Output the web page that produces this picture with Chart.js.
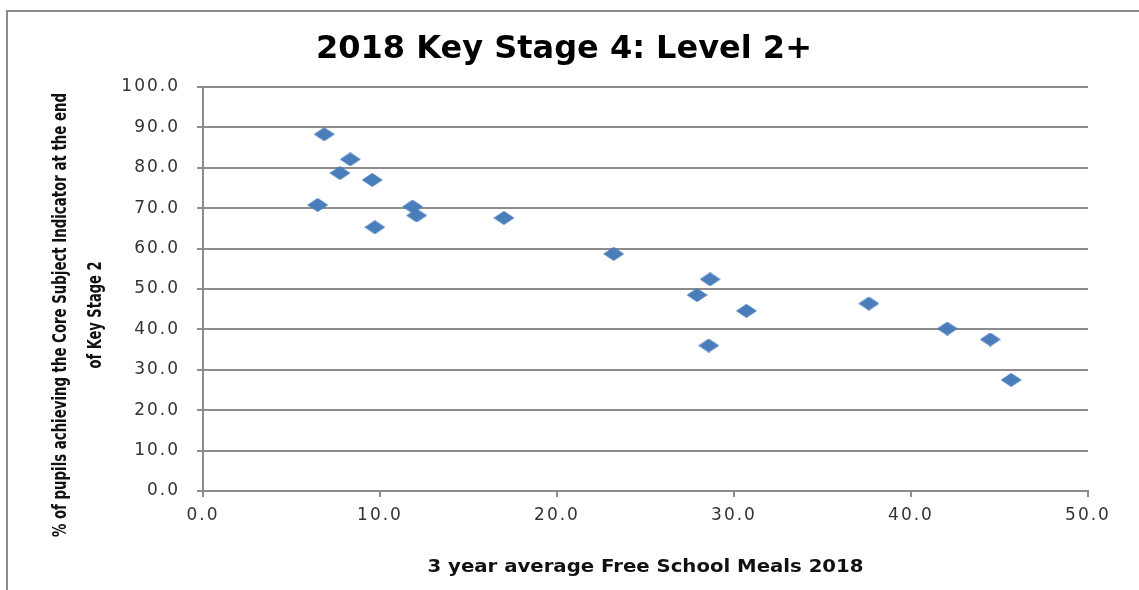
<!DOCTYPE html>
<html>
<head>
<meta charset="utf-8">
<script src="https://cdn.jsdelivr.net/npm/chart.js@4.4.1/dist/chart.umd.min.js"></script>
<style>
  html, body { margin: 0; padding: 0; background: #fff; overflow: hidden; }
  #wrap { position: relative; width: 1139px; height: 590px; overflow: hidden; }
  #frame { position: absolute; left: 6px; top: 10px; width: 1400px; height: 800px;
           border-left: 2px solid #8c8c8c; border-top: 2px solid #8c8c8c; }
  canvas { position: absolute; left: 0; top: 0; }
</style>
</head>
<body>
<div id="wrap">
  <div id="frame"></div>
  <canvas id="chart" width="1139" height="590"></canvas>
</div>
<script>
// data
const fsmPct = [6.85, 8.32, 7.74, 9.56, 6.48, 11.84, 12.07, 9.71, 17.0, 23.2,
                28.65, 27.91, 30.7, 28.57, 37.62, 42.05, 44.48, 45.66];
const csiPct = [88.3, 82.1, 78.7, 77.0, 70.8, 70.4, 68.2, 65.3, 67.6, 58.7,
                52.4, 48.5, 44.6, 36.0, 46.4, 40.2, 37.5, 27.5];
const xRange = [0, 50];
const yRange = [0, 100];
const chartTitle = "2018 Key Stage 4: Level 2+";
const xTitle = "3 year average Free School Meals 2018";
const yTitle = ["% of pupils achieving the Core Subject Indicator at the end", "of Key Stage 2"];

const points = fsmPct.map((x, i) => ({ x: x, y: csiPct[i] }));

// wide diamond marker like the Excel one
const marker = document.createElement("canvas");
marker.width = 21;
marker.height = 14;
(() => {
  const m = marker.getContext("2d");
  m.fillStyle = "#4a7ebb";
  m.beginPath();
  m.moveTo(10.5, 0);
  m.lineTo(21, 7);
  m.lineTo(10.5, 14);
  m.lineTo(0, 7);
  m.closePath();
  m.fill();
})();

const gray = "#8c8c8c";

// draw text squeezed/stretched along its own line to a given length
function fitText(ctx, text, width) {
  const w = ctx.measureText(text).width;
  ctx.save();
  ctx.scale(width / w, 1);
  ctx.fillText(text, 0, 0);
  ctx.restore();
}

const textPlugin = {
  id: "texts",
  beforeDraw(chart) {
    // tick labels in the picture are wide
    chart.ctx.letterSpacing = "2px";
  },
  afterDraw(chart) {
    const ctx = chart.ctx;
    const area = chart.chartArea;
    ctx.save();
    ctx.letterSpacing = "0px";
    ctx.fillStyle = "#000";
    ctx.textAlign = "center";
    ctx.textBaseline = "alphabetic";

    ctx.font = 'bold 32px "DejaVu Sans"';
    ctx.fillText(chartTitle, 564, 58);

    ctx.font = 'bold 18px "DejaVu Sans"';
    ctx.fillStyle = "#111";
    ctx.save();
    ctx.translate((area.left + area.right) / 2, 572);
    fitText(ctx, xTitle, 436);
    ctx.restore();

    ctx.font = 'bold 19px "Liberation Sans Narrow", "DejaVu Sans Condensed", sans-serif';
    ctx.textBaseline = "middle";
    const lens = [444, 107];
    [61, 96].forEach((cx, i) => {
      ctx.save();
      ctx.translate(cx, 315);
      ctx.rotate(-Math.PI / 2);
      fitText(ctx, yTitle[i], lens[i]);
      ctx.restore();
    });
    ctx.restore();
  }
};

new Chart(document.getElementById("chart"), {
  type: "scatter",
  data: {
    datasets: [{
      data: points,
      pointStyle: marker,
      pointRadius: 8,
      pointHoverRadius: 8,
      borderWidth: 0
    }]
  },
  options: {
    responsive: false,
    animation: false,
    devicePixelRatio: 1,
    layout: { padding: { top: 87, left: 0, right: 51, bottom: 0 } },
    plugins: {
      legend: { display: false },
      tooltip: { enabled: false }
    },
    scales: {
      x: {
        type: "linear",
        min: xRange[0],
        max: xRange[1],
        afterFit: (s) => { s.height = 99; },
        border: { color: gray, width: 2 },
        grid: { drawOnChartArea: false, drawTicks: true, tickLength: 6, color: gray, lineWidth: 2 },
        ticks: {
          stepSize: 10,
          padding: 8,
          color: "#333",
          font: { family: "DejaVu Sans", size: 17 },
          callback: (v) => v.toFixed(1)
        }
      },
      y: {
        type: "linear",
        min: yRange[0],
        max: yRange[1],
        afterFit: (s) => { s.width = 203; },
        border: { color: gray, width: 2 },
        grid: { drawTicks: true, tickLength: 6, color: gray, lineWidth: 2 },
        ticks: {
          stepSize: 10,
          padding: 17,
          color: "#333",
          font: { family: "DejaVu Sans", size: 17 },
          callback: (v) => v.toFixed(1)
        }
      }
    }
  },
  plugins: [textPlugin]
});
</script>
</body>
</html>
